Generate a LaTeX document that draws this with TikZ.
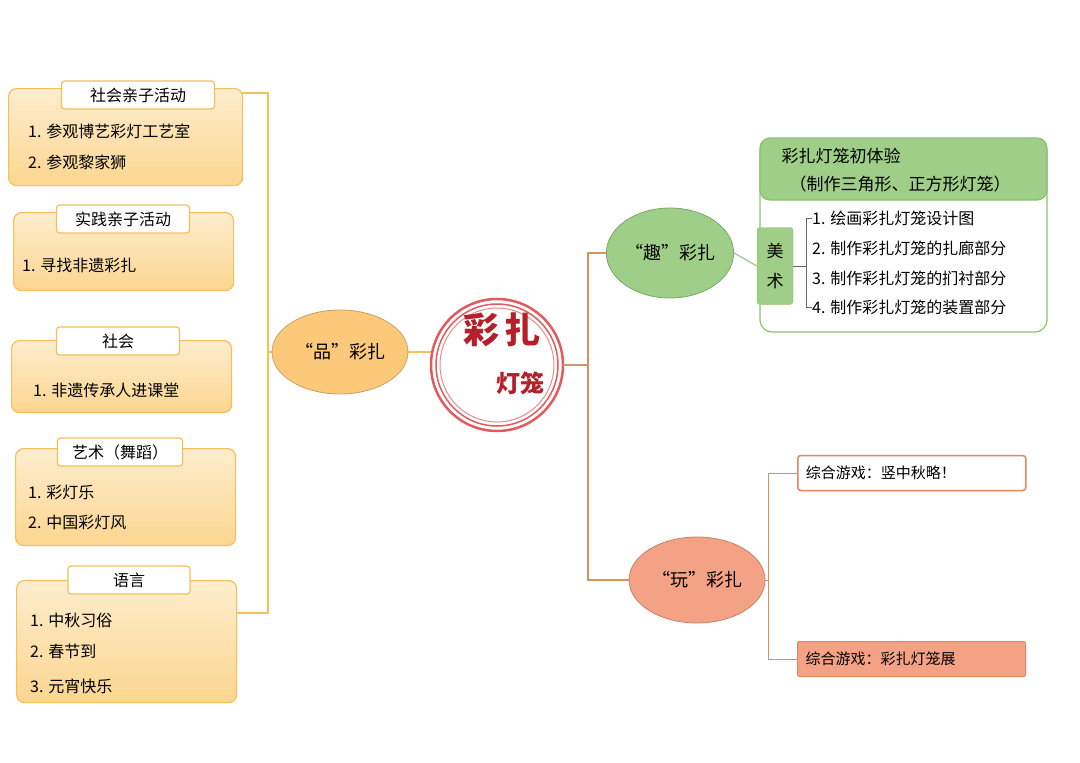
\documentclass[tikz,border=0pt]{standalone}
\usepackage{fontspec}
\setmainfont{Noto Sans CJK SC}
\usetikzlibrary{positioning,shapes.geometric}
\definecolor{boxfill}{HTML}{FCD690}
\definecolor{boxline}{HTML}{F3C05A}
\definecolor{greenfill}{HTML}{9FCE88}
\definecolor{greenline}{HTML}{8DBF6F}
\definecolor{salmon}{HTML}{F4A285}
\definecolor{salmonline}{HTML}{E8845E}
\definecolor{brownline}{HTML}{D9925A}
\definecolor{sealred}{HTML}{E05A5E}
\definecolor{inkred}{HTML}{B3202A}
\tikzset{
        % Left activity boxes
        actbox/.style={draw=boxline, line width=1.2pt, rounded corners=8pt, top color=boxfill!45, bottom color=boxfill, anchor=north west},
        % White title tabs
        tabbox/.style={draw=boxline, line width=1.2pt, fill=white, rounded corners=3pt, minimum width=#1, minimum height=28pt, font=\fontsize{16}{18}\selectfont},
        item/.style={anchor=west, font=\fontsize{16}{18}\selectfont, inner sep=0pt},
        % Branch ellipses
        branch/.style={ellipse, draw=#1!80!black, line width=0.8pt, fill=#1, inner sep=0pt, font=\fontsize{18}{22}\selectfont},
        leftline/.style={draw=boxline, line width=1.3pt},
        rightline/.style={draw=brownline, line width=1.3pt}
}
\begin{document}
\begin{tikzpicture}[x=1pt, y=-1pt]
\useasboundingbox (0,0) rectangle (1080,763);
% left boxes
\node[actbox, minimum width=234pt, minimum height=97pt] (b1) at (8,88) {};
\node[tabbox=153pt] (t1) at (138,95) {社会亲子活动};
\node[item] (i11) at (28,131) {1. 参观博艺彩灯工艺室};
\node[item] (i12) at (28,162) {2. 参观黎家狮};
\node[actbox, minimum width=220pt, minimum height=78pt] (b2) at (13,212) {};
\node[tabbox=133pt] (t2) at (123,219) {实践亲子活动};
\node[item] (i21) at (22,265) {1. 寻找非遗彩扎};
\node[actbox, minimum width=220pt, minimum height=72pt] (b3) at (11,340) {};
\node[tabbox=123pt] (t3) at (118,341) {社会};
\node[item] (i31) at (33,390) {1. 非遗传承人进课堂};
\node[actbox, minimum width=220pt, minimum height=97pt] (b4) at (15,448) {};
\node[tabbox=125pt] (t4) at (120,452) {艺术（舞蹈）};
\node[item] (i41) at (28,492) {1. 彩灯乐};
\node[item] (i42) at (28,522) {2. 中国彩灯风};
\node[actbox, minimum width=220pt, minimum height=122pt] (b5) at (16,580) {};
\node[tabbox=122pt] (t5) at (129,580) {语言};
\node[item] (i51) at (30,620) {1. 中秋习俗};
\node[item] (i52) at (30,651) {2. 春节到};
\node[item] (i53) at (30,686) {3. 元宵快乐};
% left bracket
\coordinate (lt) at (268,93);
\coordinate (lb) at (268,613);
\node[branch=boxfill!85!orange, minimum width=136pt, minimum height=84pt] (pin) at (340,352) {“品”彩扎};
\draw[leftline] (242,93) -- (lt) -- (lb) -- (236,613);
\draw[leftline] (268,352) -- (pin.west);
% centre seal
\coordinate (c) at (497,365);
\draw[sealred, line width=2.5pt] (c) circle (66);
\draw[sealred, line width=1.5pt] (c) circle (61);
\draw[sealred!70, line width=1pt] (c) circle (57);
\node[inkred, font=\fontsize{36}{40}\selectfont\bfseries] (title) at (502,330) {彩\,扎};
\node[inkred, font=\fontsize{24}{28}\selectfont\bfseries] (sub) at (520,383) {灯笼};
\draw[leftline] (pin.east) -- (431,352);
% right trunk
\node[branch=greenfill, minimum width=116pt, minimum height=90pt] (qu) at (670,253) {“趣”彩扎};
\node[branch=salmon, minimum width=136pt, minimum height=86pt] (wan) at (697,580) {“玩”彩扎};
\draw[rightline] (qu.west) -- (588,253) -- (588,580) -- (wan.west);
\draw[rightline] (563,365) -- (588,365);
% green card
\draw[greenline, line width=1.2pt, fill=white, rounded corners=12pt] (760,140) rectangle (1047,332);
\draw[greenline, line width=1.2pt, fill=greenfill, rounded corners=10pt] (760,138) rectangle (1047,200);
\node[font=\fontsize{17}{20}\selectfont, anchor=west] (g1) at (778,156) {彩扎灯笼初体验};
\node[font=\fontsize{17}{20}\selectfont] (g2) at (900,184) {（制作三角形、正方形灯笼）};
\node[draw=greenline, fill=greenfill, rounded corners=3pt, minimum width=36pt, minimum height=77pt, align=center, font=\fontsize{17}{30}\selectfont] (mei) at (775,266) {美\\术};
\draw[greenline, line width=1pt] (qu.east) -- (mei.west);
\node[item] (r1) at (812,218) {1. 绘画彩扎灯笼设计图};
\node[item] (r2) at (812,248) {2. 制作彩扎灯笼的扎廊部分};
\node[item] (r3) at (812,278) {3. 制作彩扎灯笼的扪衬部分};
\node[item] (r4) at (812,307) {4. 制作彩扎灯笼的装置部分};
\draw[black!60, line width=0.6pt] (r1.west) -- ++(-6,0) -- ++(0,89) -- (r4.west);
\draw[black!60, line width=0.6pt] (mei.east) -- (806,266);
% play boxes
\node[draw=salmonline, line width=1.5pt, fill=white, rounded corners=3pt, minimum width=228pt, minimum height=35pt, anchor=west, text width=212pt, font=\fontsize{15}{18}\selectfont] (p1) at (797,473) {综合游戏：竖中秋略！};
\node[draw=salmonline, line width=1pt, fill=salmon, rounded corners=2pt, minimum width=228pt, minimum height=35pt, anchor=west, text width=212pt, font=\fontsize{15}{18}\selectfont] (p2) at (797,659) {综合游戏：彩扎灯笼展};
\draw[rightline, line width=0.8pt] (p1.west) -- (768,473) -- (768,659) -- (p2.west);
\draw[rightline, line width=0.8pt] (wan.east) -- (768,580);
\end{tikzpicture}
\end{document}
